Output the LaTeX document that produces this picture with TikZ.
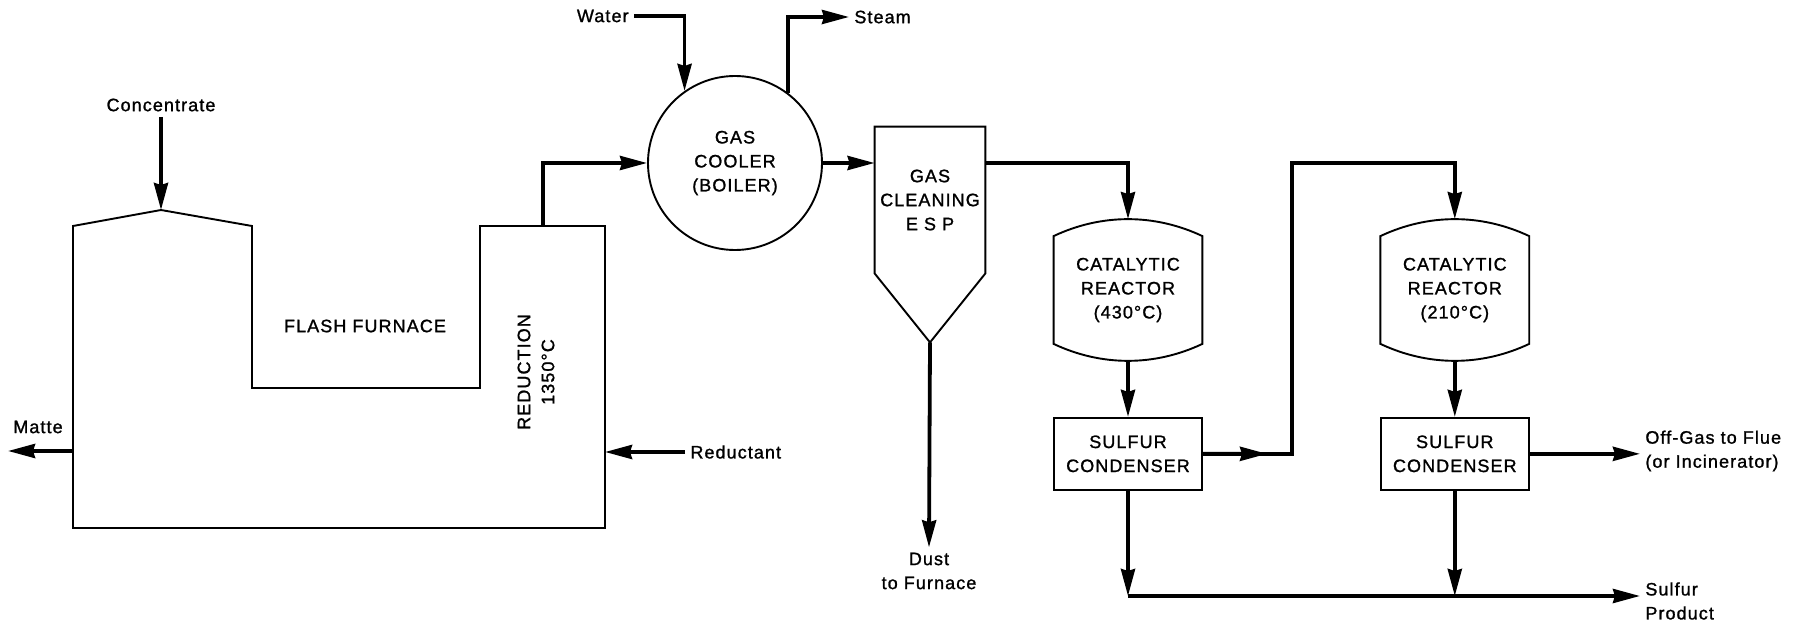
\documentclass[tikz,border=0pt]{standalone}
\usepackage{fontspec}
\newfontfamily\plantfont[LetterSpace=6, FakeBold=1.2]{Liberation Sans}
\usetikzlibrary{arrows.meta,calc,positioning}

\begin{document}
\begin{tikzpicture}
  [x=0.5pt, y=-0.5pt,
   every node/.style = {font=\plantfont\fontsize{9pt}{12pt}\selectfont, inner sep=2.5pt},
   vessel/.style = {line width=0.95pt},
   pipe/.style = {line width=1.9pt},
   stream/.style = {pipe, -{Stealth[length=13.5pt, width=7pt, inset=1pt]}},
   unitbox/.style = {align=center, minimum width=74pt},
   reactor/.style = {unitbox, minimum height=70.5pt},
   condenser/.style = {unitbox, draw, line width=0.95pt, minimum height=36pt}]
  \fill[white] (0,0) rectangle (1801,625);
  \useasboundingbox (0,0) rectangle (1801,625);

  % furnace
  \coordinate (peak) at (161,210);
  \draw[vessel] (73,226) -- (peak) -- (252,226) -- (252,388) -- (480,388)
    -- (480,226) -- (605,226) -- (605,528) -- (73,528) -- cycle;
  \node (flash) at (365,326) {FLASH FURNACE};
  \node (reduction) [rotate=90, align=center] at (536,372) {REDUCTION\\1350°C};
  \coordinate (flue) at (543,226);
  \coordinate (mattetap) at (73,451);
  \coordinate (matteout) at (8,451);
  \coordinate (redtap) at (605,452);

  % cooler and gas cleaning
  \node (cooler) [draw, vessel, circle, minimum size=87pt, align=center] at (735,163) {GAS\\COOLER\\(BOILER)};
  \node (esp) [unitbox, minimum width=55pt, minimum height=73pt] at (930,200) {GAS\\CLEANING\\E S P};
  \coordinate [below=34.5pt of esp.south] (espbot);
  \draw[vessel] (esp.north west) -- (esp.north east) -- (esp.south east)
    -- (espbot) -- (esp.south west) -- cycle;

  % sulfur recovery
  \node (reactor1) [reactor] at (1128,290) {CATALYTIC\\REACTOR\\(430°C)};
  \node (reactor2) [reactor, right=89pt of reactor1] {CATALYTIC\\REACTOR\\(210°C)};
  \node (cond1) [condenser, below=28pt of reactor1] {SULFUR\\CONDENSER};
  \node (cond2) [condenser, below=28pt of reactor2] {SULFUR\\CONDENSER};
  \foreach \r in {reactor1,reactor2}
    \draw[vessel] ([yshift=-8.5pt]\r.north west) .. controls +(24pt,11.3pt) and +(-24pt,11.3pt) .. ([yshift=-8.5pt]\r.north east)
      -- ([yshift=8.5pt]\r.south east) .. controls +(-24pt,-11.3pt) and +(24pt,-11.3pt) .. ([yshift=8.5pt]\r.south west) -- cycle;

  % streams in and out
  \node (concentrate) at (161,105) {Concentrate};
  \node (matte) at (38,427) {Matte};
  \node (reductant) [anchor=west] at (685,452) {Reductant};
  \node (water) [anchor=east] at (634,16) {Water};
  \node (steam) [anchor=west] at (849,17) {Steam};
  \node (dust) [align=center] at (929,571) {Dust\\to Furnace};
  \node (offgas) [anchor=west, align=left] at (1640,451) {Off-Gas to Flue\\(or Incinerator)};
  \node (product) [anchor=west, align=left] at (1640,601) {Sulfur\\Product};

  \draw[stream] (concentrate.south) -- (peak);
  \draw[stream] (mattetap) -- (matteout);
  \draw[stream] (reductant.west) -- (redtap);
  \draw[stream] (flue) |- (cooler.west);
  \draw[stream] (water.east) -| (cooler.125);
  \draw[stream] (cooler.53) |- (steam.west);
  \draw[stream] (cooler.east) -- (cooler.east -| esp.west);
  \draw[stream] (cooler.east -| esp.east) -| (reactor1.north);
  \draw[stream] (espbot) -- (dust.north);
  \draw[stream] (reactor1.south) -- (cond1.north);
  \draw[stream] (reactor2.south) -- (cond2.north);

  \coordinate [right=44.5pt of cond1.east] (riser);
  \coordinate (risertop) at (riser |- cooler.east);
  \draw[stream] (cond1.east) -- (riser) -- (risertop) -| (reactor2.north);
  \draw[stream] (cond1.east) -- ($(cond1.east)!0.72!(riser)$);

  \coordinate (collect) at (1128,596);
  \draw[stream] (cond1.south) -- (collect);
  \draw[stream] (cond2.south) -- (cond2.south |- collect);
  \draw[stream] (collect) -- (collect -| product.west);
  \draw[stream] (cond2.east) -- (cond2.east -| offgas.west);
\end{tikzpicture}
\end{document}
